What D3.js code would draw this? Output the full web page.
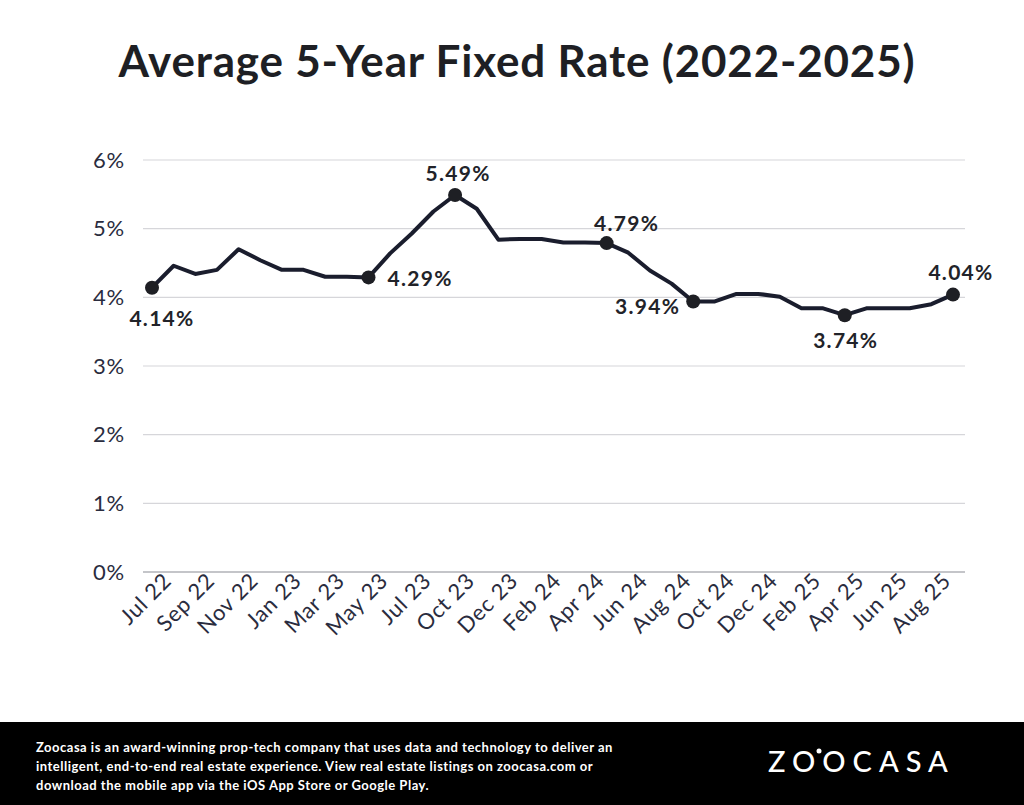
<!DOCTYPE html>
<html>
<head>
<meta charset="utf-8">
<script src="https://cdn.jsdelivr.net/npm/d3@7"></script>
<style>
  body { margin: 0; background: #fff; }
  svg { display: block; font-family: Lato, "Open Sans", sans-serif; }
</style>
</head>
<body>
<script>
// monthly average 5-year fixed rate (Aug 23 not reported)
var months = ['Jul 22', 'Aug 22', 'Sep 22', 'Oct 22', 'Nov 22', 'Dec 22',
    'Jan 23', 'Feb 23', 'Mar 23', 'Apr 23', 'May 23', 'Jun 23', 'Jul 23',
    'Sep 23', 'Oct 23', 'Nov 23', 'Dec 23', 'Jan 24', 'Feb 24', 'Mar 24',
    'Apr 24', 'May 24', 'Jun 24', 'Jul 24', 'Aug 24', 'Sep 24', 'Oct 24',
    'Nov 24', 'Dec 24', 'Jan 25', 'Feb 25', 'Mar 25', 'Apr 25', 'May 25',
    'Jun 25', 'Jul 25', 'Aug 25', 'Sep 25'];
var rates = [4.14, 4.46, 4.34, 4.40, 4.70, 4.54, 4.40, 4.40, 4.30, 4.30,
    4.29, 4.64, 4.93, 5.25, 5.49, 5.29, 4.84, 4.85, 4.85, 4.80,
    4.80, 4.79, 4.65, 4.39, 4.20, 3.94, 3.94, 4.05, 4.05, 4.01,
    3.84, 3.84, 3.74, 3.84, 3.84, 3.84, 3.90, 4.04];
var tickMonths = ['Jul 22', 'Sep 22', 'Nov 22', 'Jan 23', 'Mar 23', 'May 23',
    'Jul 23', 'Oct 23', 'Dec 23', 'Feb 24', 'Apr 24', 'Jun 24', 'Aug 24',
    'Oct 24', 'Dec 24', 'Feb 25', 'Apr 25', 'Jun 25', 'Aug 25'];
var yTicks = [0, 1, 2, 3, 4, 5, 6];
var highlighted = ['Jul 22', 'May 23', 'Oct 23', 'May 24', 'Sep 24', 'Apr 25', 'Sep 25'];

var width = 1024;
var height = 805;

// where each highlighted label sits relative to its dot
var labelPlace = {
    'Jul 22': { dx: 10, dy: 31, anchor: 'middle' },
    'May 23': { dx: 19, dy: 1, anchor: 'start' },
    'Oct 23': { dx: 3, dy: -21, anchor: 'middle' },
    'May 24': { dx: 20, dy: -19, anchor: 'middle' },
    'Sep 24': { dx: -13, dy: 5, anchor: 'end' },
    'Apr 25': { dx: 1, dy: 25, anchor: 'middle' },
    'Sep 25': { dx: 8, dy: -22, anchor: 'middle' }
};

var svg = d3.select('body')
    .append('svg')
    .attr('width', width)
    .attr('height', height);

var x = d3.scalePoint()
    .domain(months)
    .range([152, 953]);

var y = d3.scaleLinear()
    .domain([0, 6])
    .range([572, 160]);

svg.append('text')
    .attr('x', 517)
    .attr('y', 77)
    .attr('text-anchor', 'middle')
    .attr('font-size', 44)
    .attr('font-weight', 'bold')
    .attr('letter-spacing', 0.8)
    .attr('fill', '#1e1f24')
    .text('Average 5-Year Fixed Rate (2022-2025)');

// grid + y labels
var grid = svg.append('g');
grid.selectAll('line')
    .data(yTicks)
    .enter()
    .append('line')
    .attr('x1', 143)
    .attr('x2', 965)
    .attr('y1', d => y(d))
    .attr('y2', d => y(d))
    .attr('stroke', d => d === 0 ? '#8a8b94' : '#d6d6da')
    .attr('stroke-width', 1.2);

var yAxis = svg.append('g')
    .attr('transform', 'translate(125,0)')
    .call(d3.axisLeft(y).tickValues(yTicks).tickSize(0).tickPadding(0).tickFormat(d => d + '%'));
yAxis.select('.domain').remove();
yAxis.selectAll('text')
    .attr('font-family', 'Lato, sans-serif')
    .attr('font-size', 22)
    .attr('letter-spacing', 0.8)
    .attr('fill', '#2a2c3e');

var xAxis = svg.append('g')
    .attr('transform', 'translate(0,' + 576 + ')')
    .call(d3.axisBottom(x).tickValues(tickMonths).tickSize(0).tickPadding(0));
xAxis.select('.domain').remove();
xAxis.selectAll('text')
    .attr('font-family', 'Lato, sans-serif')
    .attr('font-size', 22)
    .attr('letter-spacing', 0.7)
    .attr('fill', '#2a2c3e')
    .attr('text-anchor', 'end')
    .attr('dy', '0.6em')
    .attr('transform', 'translate(11,-3) rotate(-45)');

var line = d3.line()
    .x((d, i) => x(months[i]))
    .y(d => y(d));

svg.append('path')
    .datum(rates)
    .attr('d', line)
    .attr('fill', 'none')
    .attr('stroke', '#1a1d2d')
    .attr('stroke-width', 4)
    .attr('stroke-linejoin', 'round');

var marks = svg.append('g');
highlighted.forEach(function (m) {
    var i = months.indexOf(m);
    var p = labelPlace[m];
    marks.append('circle')
        .attr('cx', x(m))
        .attr('cy', y(rates[i]))
        .attr('r', 7)
        .attr('fill', '#1e1f24');
    marks.append('text')
        .attr('x', x(m) + p.dx)
        .attr('y', y(rates[i]) + p.dy)
        .attr('dy', '0.35em')
        .attr('text-anchor', p.anchor)
        .attr('font-size', 21)
        .attr('font-weight', 'bold')
        .attr('letter-spacing', 1.3)
        .attr('fill', '#222329')
        .text(rates[i].toFixed(2) + '%');
});

// footer
svg.append('rect')
    .attr('x', 0)
    .attr('y', 722)
    .attr('width', width)
    .attr('height', 83)
    .attr('fill', '#000');

var blurb = ['Zoocasa is an award-winning prop-tech company that uses data and technology to deliver an',
    'intelligent, end-to-end real estate experience. View real estate listings on zoocasa.com or',
    'download the mobile app via the iOS App Store or Google Play.'];
svg.append('g').selectAll('text')
    .data(blurb)
    .enter()
    .append('text')
    .attr('x', 36)
    .attr('y', (d, i) => 752 + i * 19)
    .attr('font-size', 13)
    .attr('font-weight', 'bold')
    .attr('letter-spacing', 0.5)
    .attr('fill', '#fff')
    .text(d => d);

svg.append('text')
    .attr('x', 768)
    .attr('y', 772)
    .attr('font-family', 'Lato, sans-serif')
    .attr('font-size', 29)
    .attr('font-weight', 500)
    .attr('letter-spacing', 7)
    .attr('fill', '#fff')
    .text('ZOOCASA');
svg.append('circle')
    .attr('cx', 819)
    .attr('cy', 751)
    .attr('r', 2.5)
    .attr('fill', '#fff');
</script>
</body>
</html>
